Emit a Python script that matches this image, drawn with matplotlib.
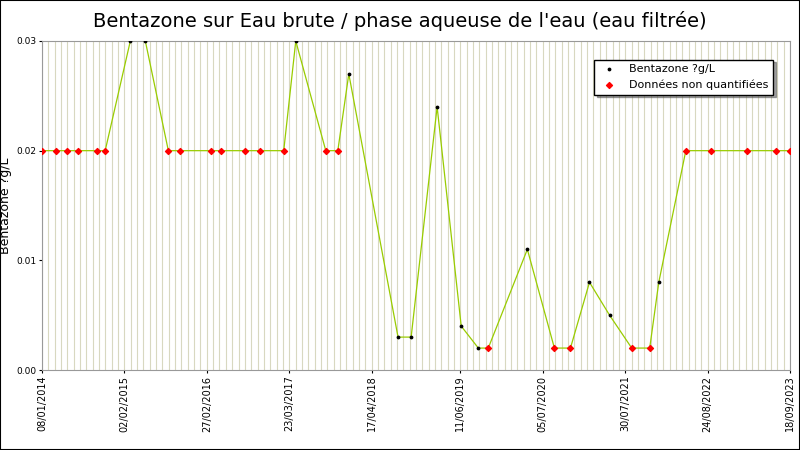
import matplotlib
matplotlib.use("Agg")
import matplotlib.pyplot as plt
import matplotlib.dates as mdates
import numpy as np
from datetime import datetime

dates = ["2014-01-08","2014-03-15","2014-05-07","2014-06-28","2014-09-26","2014-11-03",
         "2015-03-02","2015-05-12","2015-08-29","2015-10-25","2016-03-20","2016-05-02",
         "2016-08-24","2016-11-03","2017-02-25","2017-04-23","2017-09-12","2017-11-08",
         "2017-12-30","2018-08-20","2018-10-21","2019-02-21","2019-06-15","2019-09-04",
         "2019-10-21","2020-04-23","2020-08-29","2020-11-13","2021-02-11","2021-05-17",
         "2021-08-30","2021-11-23","2022-01-05","2022-05-13","2022-09-09","2023-02-27",
         "2023-07-14","2023-09-18"]
values = [0.02,0.02,0.02,0.02,0.02,0.02,0.03,0.03,0.02,0.02,0.02,0.02,0.02,0.02,0.02,0.03,
          0.02,0.02,0.027,0.003,0.003,0.024,0.004,0.002,0.002,0.011,0.002,0.002,0.008,0.005,
          0.002,0.002,0.008,0.02,0.02,0.02,0.02,0.02]
quantified = [0,0,0,0,0,0,1,1,0,0,0,0,0,0,0,1,0,0,1,1,1,1,1,1,0,1,0,0,1,1,0,0,1,0,0,0,0,0]
tick_labels = ["08/01/2014","02/02/2015","27/02/2016","23/03/2017","17/04/2018",
               "11/06/2019","05/07/2020","30/07/2021","24/08/2022","18/09/2023"]

d = [datetime.strptime(s, "%Y-%m-%d") for s in dates]
v = np.array(values); q = np.array(quantified, bool)
dn = mdates.date2num(d)

fig = plt.figure(figsize=(8, 4.5), dpi=100)
fig.patches.append(plt.Rectangle((0, 0), 1, 1, transform=fig.transFigure, fill=False,
                                 edgecolor="black", lw=1.5))
ax = fig.add_axes([42/800, 80/450, 748/800, 329/450])
start = mdates.date2num(datetime(2014, 1, 8)); end = mdates.date2num(datetime(2023, 9, 18))
for x in np.arange(start, end + 1, 30):
    ax.axvline(x, color="#d8d8c0", lw=0.8, zorder=0)
ax.plot(dn, v, color="#99cc00", lw=0.9, zorder=2)
ax.scatter(dn[q], v[q], s=3, color="black", zorder=3, label="Bentazone ?g/L")
ax.scatter(dn[~q], v[~q], s=9, marker="D", color="red", zorder=3, label="Données non quantifiées")
ax.set_xlim(start, end); ax.set_ylim(0, 0.03)
for s in ax.spines.values():
    s.set_color("#999999")
tick_pos = [mdates.date2num(datetime.strptime(t, "%d/%m/%Y")) for t in tick_labels]
ax.set_xticks(tick_pos); ax.set_xticklabels(tick_labels, rotation=90, fontsize=7)
ax.set_yticks([0, 0.01, 0.02, 0.03]); ax.set_yticklabels(["0.00","0.01","0.02","0.03"], fontsize=6.5)
ax.tick_params(length=2, pad=2)
ax.set_ylabel("Bentazone ?g/L", fontsize=9, labelpad=3)
fig.suptitle("Bentazone sur Eau brute / phase aqueuse de l'eau (eau filtrée)", fontsize=14, y=0.975)
leg = ax.legend(loc="upper right", fontsize=8, fancybox=False, shadow=True, framealpha=1,
                edgecolor="black", bbox_to_anchor=(0.985, 0.96))
fig.savefig("out.png")
